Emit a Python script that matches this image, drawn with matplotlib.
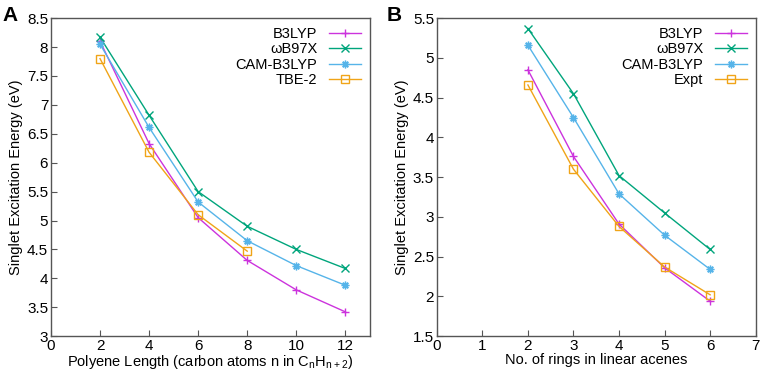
import matplotlib.pyplot as plt

plt.rcParams['font.family'] = ['Liberation Sans', 'DejaVu Sans']

# panel A: polyenes
n_carbon = [2, 4, 6, 8, 10, 12]
a_b3lyp = [8.10, 6.33, 5.05, 4.31, 3.80, 3.42]
a_wb97x = [8.17, 6.82, 5.50, 4.90, 4.50, 4.17]
a_cam = [8.05, 6.61, 5.32, 4.65, 4.22, 3.88]
n_tbe = [2, 4, 6, 8]
a_tbe = [7.80, 6.18, 5.10, 4.47]

# panel B: acenes
n_rings = [2, 3, 4, 5, 6]
b_b3lyp = [4.85, 3.76, 2.91, 2.36, 1.94]
b_wb97x = [5.37, 4.55, 3.52, 3.05, 2.59]
b_cam = [5.16, 4.25, 3.29, 2.77, 2.34]
b_expt = [4.66, 3.60, 2.88, 2.37, 2.02]

c_b3 = '#cc33dd'
c_wb = '#00a57c'
c_cam = '#56b4e9'
c_ref = '#f0a418'
star = (8, 2, 0)

fig = plt.figure(figsize=(7.61, 3.71), dpi=100)
axA = fig.add_axes([0.067, 0.094, 0.419, 0.857])
axB = fig.add_axes([0.574, 0.094, 0.419, 0.857])


def style(ax):
    for s in ax.spines.values():
        s.set_color('#555555')
        s.set_linewidth(1.0)
    ax.tick_params(direction='in', length=4, color='#555555', labelsize=11, pad=2)
    ax.set_ylabel('Singlet Excitation Energy (eV)', fontsize=10.5, labelpad=3)
    ax.legend(loc='upper right', frameon=False, markerfirst=False, fontsize=10.5,
              handlelength=2.2, labelspacing=0.1, borderaxespad=0.2)


axA.plot(n_carbon, a_b3lyp, color=c_b3, marker='+', ms=5.5, lw=1, label='B3LYP')
axA.plot(n_carbon, a_wb97x, color=c_wb, marker='x', ms=5.5, lw=1, label='ωB97X')
axA.plot(n_carbon, a_cam, color=c_cam, marker=star, ms=5.5, lw=1, label='CAM-B3LYP')
axA.plot(n_tbe, a_tbe, color=c_ref, marker='s', ms=5.5, mfc='none', lw=1, label='TBE-2')
axA.set_xlim(0, 13)
axA.set_ylim(3, 8.5)
axA.set_xticks(range(0, 13, 2))
axA.set_yticks([3, 3.5, 4, 4.5, 5, 5.5, 6, 6.5, 7, 7.5, 8, 8.5])
axA.set_yticklabels(['3', '3.5', '4', '4.5', '5', '5.5', '6', '6.5', '7', '7.5', '8', '8.5'])
axA.set_xlabel('Polyene Length (carbon atoms n in C$_\\mathregular{n}$H$_\\mathregular{n+2}$)',
               fontsize=10.5, labelpad=0)
style(axA)

axB.plot(n_rings, b_b3lyp, color=c_b3, marker='+', ms=5.5, lw=1, label='B3LYP')
axB.plot(n_rings, b_wb97x, color=c_wb, marker='x', ms=5.5, lw=1, label='ωB97X')
axB.plot(n_rings, b_cam, color=c_cam, marker=star, ms=5.5, lw=1, label='CAM-B3LYP')
axB.plot(n_rings, b_expt, color=c_ref, marker='s', ms=5.5, mfc='none', lw=1, label='Expt')
axB.set_xlim(0, 7)
axB.set_ylim(1.5, 5.5)
axB.set_xticks(range(0, 8))
axB.set_yticks([1.5, 2, 2.5, 3, 3.5, 4, 4.5, 5, 5.5])
axB.set_yticklabels(['1.5', '2', '2.5', '3', '3.5', '4', '4.5', '5', '5.5'])
axB.set_xlabel('No. of rings in linear acenes', fontsize=10.5, labelpad=0)
style(axB)

fig.text(0.003, 0.985, 'A', fontsize=15, fontweight='bold', va='top')
fig.text(0.508, 0.985, 'B', fontsize=15, fontweight='bold', va='top')

fig.savefig('out.png', dpi=100)
